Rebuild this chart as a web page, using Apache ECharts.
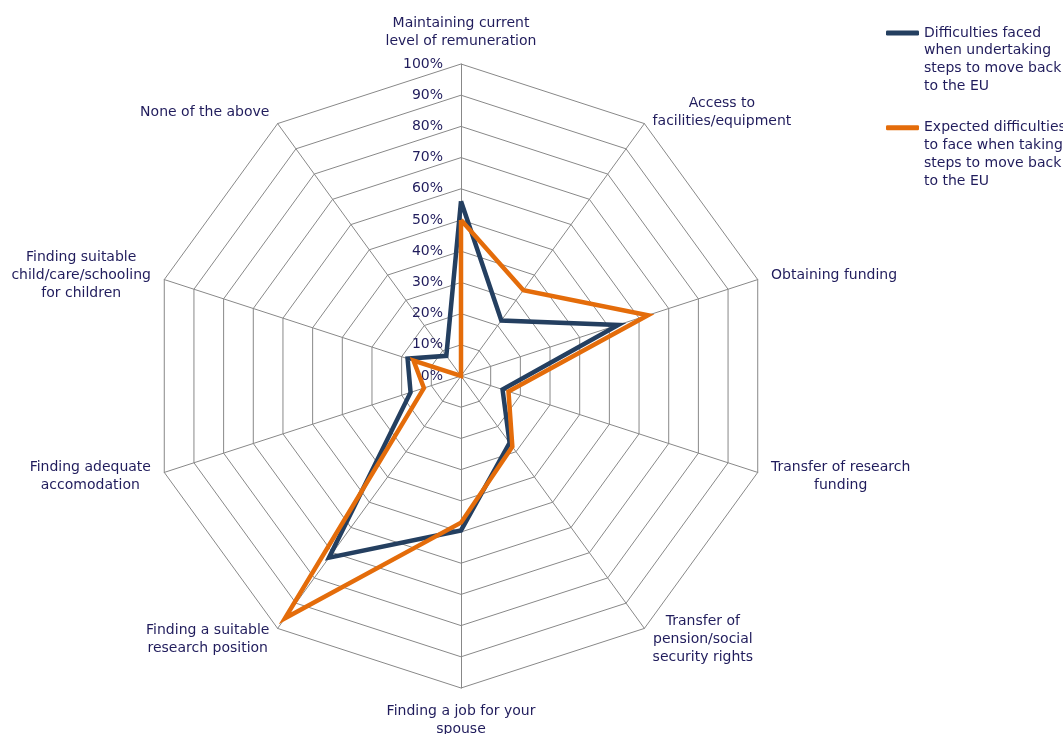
<!DOCTYPE html>
<html>
<head>
<meta charset="utf-8">
<title>Difficulties moving back to the EU</title>
<script src="https://cdn.jsdelivr.net/npm/echarts@6/dist/echarts.min.js"></script>
<style>
  html, body { margin: 0; padding: 0; background: #fff; }
  #chart { width: 1063px; height: 734px; }
</style>
</head>
<body>
<div id="chart"></div>
<script>
// categories, clockwise from the top
const categories = [
  'Maintaining current\nlevel of remuneration',
  'Access to\nfacilities/equipment',
  'Obtaining funding',
  'Transfer of research\nfunding',
  'Transfer of\npension/social\nsecurity rights',
  'Finding a job for your\nspouse',
  'Finding a suitable\nresearch position',
  'Finding adequate\naccomodation',
  'Finding suitable\nchild/care/schooling\nfor children',
  'None of the above'
]
const seriesNames = [
  'Difficulties faced\nwhen undertaking\nsteps to move back\nto the EU',
  'Expected difficulties\nto face when taking\nsteps to move back\nto the EU'
]
// percentages, same order as categories
const difficultiesFaced = [56, 22, 53, 14, 26.5, 49.5, 72, 17, 18, 8]
const expectedDifficulties = [50, 34, 63, 16, 28, 47, 96, 12.5, 16, 0]
// axis 0% .. 100%, step 10
const axisMin = 0
const axisMax = 100
const axisSplits = 10

const textColor = '#201c5c'
const fontFamily = '"DejaVu Sans", Verdana, sans-serif'

// echarts lays radar indicators out counter-clockwise, the picture goes clockwise
function clockwise(arr) {
  return [arr[0]].concat(arr.slice(1).reverse())
}

let chart = echarts.init(document.getElementById('chart'))
chart.setOption({
  color: ['#243f60', '#e46c0a'],
  textStyle: { fontFamily: fontFamily },
  legend: {
    orient: 'vertical',
    left: 886,
    top: -29,
    padding: 0,
    itemWidth: 33,
    itemHeight: 5,
    itemGap: -29,
    icon: 'roundRect',
    data: seriesNames,
    // 3 empty lines on top so the icon sits on the first text line
    formatter: name => '\n\n\n' + name,
    textStyle: {
      fontSize: 14,
      color: textColor,
      fontFamily: fontFamily,
      lineHeight: 17.7
    }
  },
  radar: {
    center: [461, 376],
    radius: 312,
    startAngle: 90,
    shape: 'polygon',
    splitNumber: axisSplits,
    nameGap: 14,
    indicator: clockwise(categories).map((name, i) => {
      let ind = { name: name, min: axisMin, max: axisMax }
      if (i === 0) {
        ind.axisLabel = { show: true }
      }
      return ind
    }),
    axisName: {
      color: textColor,
      fontSize: 14,
      fontFamily: fontFamily,
      formatter: function (value) {
        return value.split('\n').map(line => '{c|' + line + '}').join('\n')
      },
      rich: {
        c: {
          align: 'center',
          color: textColor,
          fontSize: 14,
          fontFamily: fontFamily,
          lineHeight: 18
        }
      }
    },
    axisLine: {
      lineStyle: { color: '#888888', width: 1 }
    },
    splitLine: {
      lineStyle: { color: '#888888', width: 1 }
    },
    splitArea: { show: false },
    axisTick: { show: false },
    axisLabel: {
      show: false,
      formatter: '{value}%',
      color: textColor,
      fontSize: 14,
      fontFamily: fontFamily,
      margin: 18
    }
  },
  series: [
    {
      type: 'radar',
      symbol: 'none',
      silent: true,
      lineStyle: { width: 4.5, join: 'miter', miterLimit: 20 },
      data: [
        { name: seriesNames[0], value: clockwise(difficultiesFaced) },
        { name: seriesNames[1], value: clockwise(expectedDifficulties) }
      ]
    }
  ]
})
</script>
</body>
</html>
